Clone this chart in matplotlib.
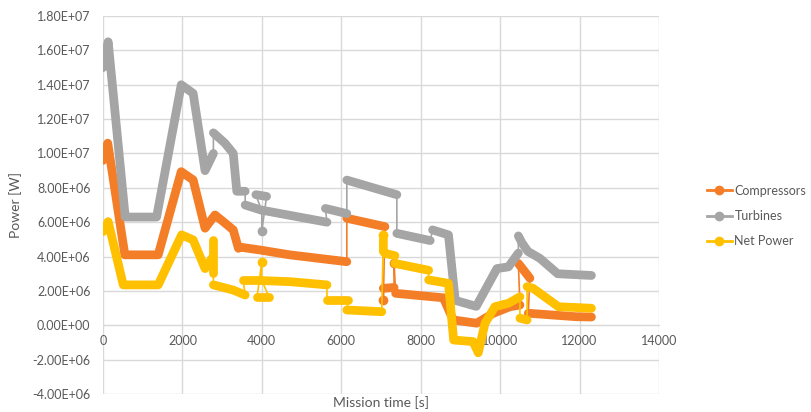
import matplotlib.pyplot as plt
from matplotlib.lines import Line2D
from matplotlib.ticker import FuncFormatter, MultipleLocator

# Mission time [s] and power [MW], split into dense runs
# (thick in the picture); consecutive runs are joined by thin lines
comp_t = [[0, 120, 550, 1390, 1970, 2270, 2570, 2820, 3030, 3280, 3410, 3450, 3960, 4700, 6140],
          [6140, 7100],
          [7060],
          [7060, 7330],
          [7330],
          [7370, 8570, 8820, 9410, 9830, 10250, 10500],
          [10460, 10750],
          [10710, 11900, 12300]]
comp_p = [[9.6, 10.6, 4.1, 4.1, 8.94, 8.46, 5.65, 6.42, 6.03, 5.55, 4.48, 4.55, 4.38, 4.1, 3.7],
          [6.23, 5.74],
          [1.47],
          [2.15, 2.2],
          [3.6],
          [1.86, 1.6, 0.31, 0.12, 0.7, 1.08, 1.18],
          [3.6, 2.74],
          [0.7, 0.5, 0.48]]

turb_t = [[0, 130, 560, 1350, 1970, 2270, 2570, 2780],
          [2780, 3070, 3280, 3370, 3580],
          [3580, 3990],
          [3850, 4120],
          [4000],
          [4000, 5640],
          [5600, 6140],
          [6140, 7400],
          [7400, 8240],
          [8300, 8700, 8870, 9400, 9920, 10210, 10460],
          [10460, 10550, 10700, 11000, 11450, 12300]]
turb_p = [[15.0, 16.5, 6.3, 6.3, 14.0, 13.5, 9.0, 10.0],
          [11.2, 10.6, 10.0, 7.8, 7.8],
          [7.0, 6.7],
          [7.6, 7.5],
          [5.5],
          [6.7, 6.0],
          [6.8, 6.5],
          [8.45, 7.6],
          [5.35, 4.93],
          [5.55, 5.26, 1.45, 1.1, 3.3, 3.4, 4.2],
          [5.2, 4.8, 4.3, 3.9, 3.0, 2.9]]

net_t = [[0, 130, 510, 1390, 1980, 2270, 2570, 2740],
         [2780, 2780],
         [2780, 3280, 3580],
         [3530, 3990],
         [4000],
         [3880, 4180],
         [4000, 4700, 5640],
         [5640, 6180],
         [6140, 7020],
         [7060],
         [7060, 7060, 7100, 7350],
         [7350, 8200],
         [8200, 8700, 8830, 9320, 9450, 9620, 9870, 10210, 10500],
         [10500, 10680],
         [10680, 10830, 11470, 12300]]
net_p = [[5.45, 6.03, 2.35, 2.35, 5.26, 4.97, 3.3, 3.9],
         [4.97, 3.03],
         [2.35, 2.05, 1.76],
         [2.64, 2.64],
         [3.7],
         [1.66, 1.66],
         [2.6, 2.54, 2.35],
         [1.47, 1.47],
         [0.89, 0.79],
         [5.26],
         [5.0, 4.3, 4.19, 4.05],
         [3.6, 3.2],
         [2.64, 2.44, -0.86, -0.95, -1.6, 0.12, 1.08, 1.28, 1.66],
         [0.41, 0.31],
         [2.25, 2.15, 1.08, 0.99]]

series = [('Compressors', '#F47D28', comp_t, comp_p),
          ('Turbines', '#A5A5A5', turb_t, turb_p),
          ('Net Power', '#FFC000', net_t, net_p)]

plt.rcParams['font.family'] = ['Lato', 'DejaVu Sans']

fig = plt.figure(figsize=(8.11, 4.12), dpi=100)
ax = fig.add_axes([0.127, 0.0437, 0.6855, 0.9174])

handles = []
for i, (name, color, ts, ps) in enumerate(series):
    z = 3 + i
    # thin connecting line through every point
    all_t = [t for seg in ts for t in seg]
    all_p = [p * 1e6 for seg in ps for p in seg]
    ax.plot(all_t, all_p, color=color, lw=1.2, zorder=z)
    # dense runs drawn thick
    for seg_t, seg_p in zip(ts, ps):
        vals = [p * 1e6 for p in seg_p]
        if len(seg_t) == 1:
            ax.plot(seg_t, vals, 'o', color=color, ms=7, mew=0, zorder=z)
        else:
            ax.plot(seg_t, vals, color=color, lw=6.3, solid_capstyle='round',
                    solid_joinstyle='round', zorder=z)
    handles.append(Line2D([0], [0], color=color, lw=2, marker='o', ms=6, label=name))

ax.set_xlim(0, 14000)
ax.set_ylim(-4e6, 1.8e7)
ax.xaxis.set_major_locator(MultipleLocator(2000))
ax.yaxis.set_major_locator(MultipleLocator(2e6))
ax.yaxis.set_major_formatter(FuncFormatter(lambda v, pos: f'{v:.2E}'))

ax.grid(True, color='#D9D9D9', lw=1)
ax.set_axisbelow(True)
for s in ['top', 'right', 'left']:
    ax.spines[s].set_visible(False)
ax.spines['bottom'].set_position(('data', 0))
ax.spines['bottom'].set_color('#D9D9D9')
ax.tick_params(axis='both', length=0, labelsize=9, labelcolor='#595959')
ax.tick_params(axis='x', pad=7)
ax.tick_params(axis='y', pad=9)

ax.set_xlabel('Mission time [s]', fontsize=10, color='#595959')
ax.xaxis.set_label_coords(0.5, -0.006)
ax.set_ylabel('Power [W]', fontsize=10, color='#595959')
ax.yaxis.set_label_coords(-0.145, 0.5)

fig.legend(handles=handles, loc='center left', bbox_to_anchor=(0.864, 0.476),
           frameon=False, fontsize=9, handlelength=2.0, handletextpad=0.2,
           labelspacing=1.05, borderpad=0, labelcolor='#595959')

plt.savefig('out.png', dpi=100)
